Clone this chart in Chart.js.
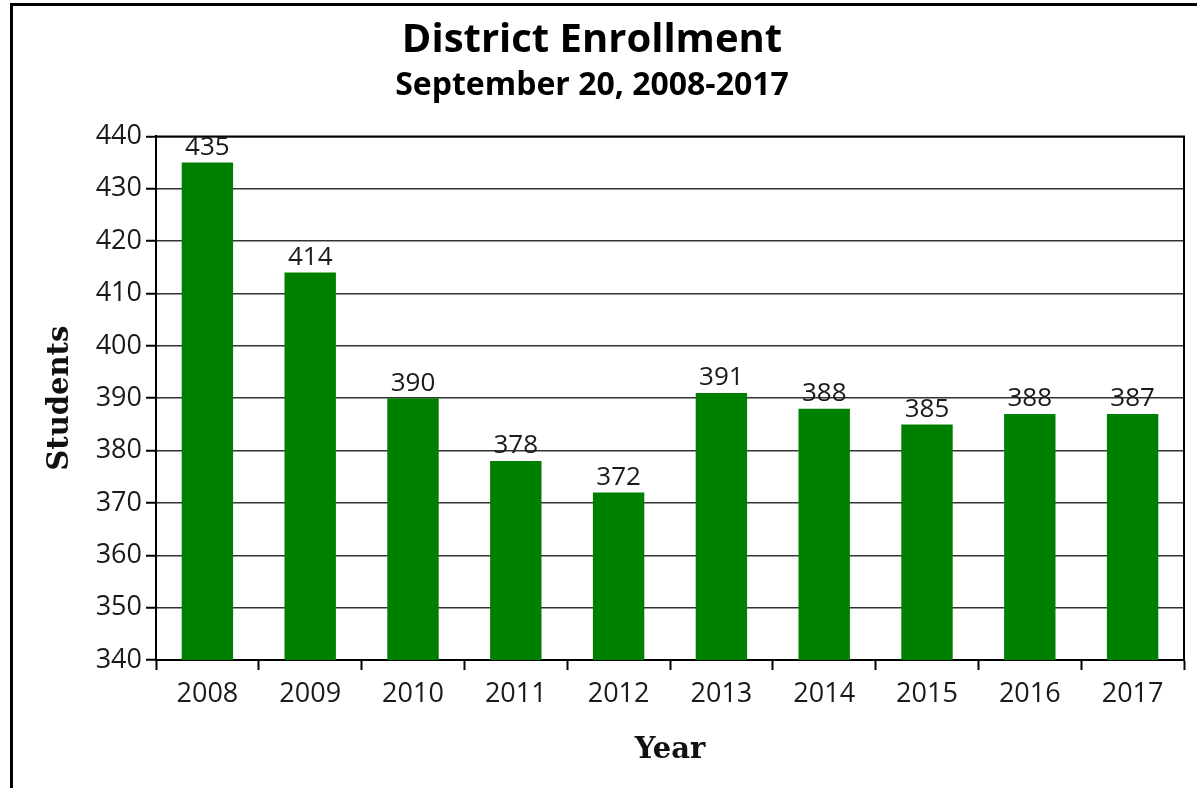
<!DOCTYPE html>
<html>
<head>
<meta charset="utf-8">
<script src="https://cdn.jsdelivr.net/npm/chart.js@4.4.0/dist/chart.umd.min.js"></script>
<style>
  html, body { margin: 0; padding: 0; background: #fff; }
  #wrap { position: relative; width: 1197px; height: 788px; overflow: hidden; }
  #frame { position: absolute; left: 10px; top: 3px; width: 1300px; height: 900px; border: 3px solid #000; box-sizing: border-box; }
  #c { position: absolute; left: 0; top: 0; }
</style>
</head>
<body>
<div id="wrap">
  <div id="frame"></div>
  <canvas id="c" width="1197" height="788"></canvas>
</div>
<script>
const years = ['2008','2009','2010','2011','2012','2013','2014','2015','2016','2017'];
const students = [435, 414, 390, 378, 372, 391, 388, 385, 387, 387];
const labelText = ['435','414','390','378','372','391','388','385','388','387'];
const yTicks = [340, 350, 360, 370, 380, 390, 400, 410, 420, 430, 440];

const sansFont = "'Open Sans', 'Noto Sans', sans-serif";
const serifFont = "'DejaVu Serif', serif";

const frameAreaPlugin = {
  id: 'frameArea',
  afterDatasetsDraw(chart) {
    const { ctx, chartArea: a } = chart;
    ctx.save();
    ctx.strokeStyle = '#000';
    ctx.lineWidth = 2;
    ctx.beginPath();
    ctx.moveTo(a.left, a.top);
    ctx.lineTo(a.right, a.top);
    ctx.lineTo(a.right, a.bottom);
    ctx.stroke();
    ctx.restore();
  }
};

const valueLabelPlugin = {
  id: 'valueLabels',
  afterDatasetsDraw(chart) {
    const { ctx } = chart;
    const meta = chart.getDatasetMeta(0);
    ctx.save();
    ctx.font = '26px ' + sansFont;
    ctx.fillStyle = '#1a1a1a';
    ctx.textAlign = 'center';
    ctx.textBaseline = 'middle';
    meta.data.forEach((bar, i) => {
      ctx.fillText(labelText[i], bar.x, bar.y - 15);
    });
    ctx.restore();
  }
};

new Chart(document.getElementById('c'), {
  type: 'bar',
  data: {
    labels: years,
    datasets: [{
      label: 'Students',
      data: students,
      backgroundColor: '#008000',
      borderWidth: 0,
      categoryPercentage: 1.0,
      barPercentage: 0.5
    }]
  },
  options: {
    responsive: false,
    animation: false,
    devicePixelRatio: 1,
    layout: { padding: { left: 0, right: 13, top: 0, bottom: 0 } },
    plugins: {
      legend: { display: false },
      tooltip: { enabled: false },
      title: {
        display: true,
        text: 'District Enrollment',
        color: '#000',
        font: { family: sansFont, size: 40, weight: 'bold' },
        padding: { top: 17, bottom: 0 }
      },
      subtitle: {
        display: true,
        text: 'September 20, 2008-2017',
        color: '#000',
        font: { family: sansFont, size: 32, weight: 'bold' },
        padding: { top: 2, bottom: 31 }
      }
    },
    scales: {
      x: {
        offset: true,
        afterFit(scale) { scale.height = 128; },
        grid: { drawOnChartArea: false, drawTicks: true, tickLength: 10, tickColor: '#000', tickWidth: 2, offset: true },
        border: { color: '#000', width: 2 },
        ticks: { color: '#1a1a1a', font: { family: sansFont, size: 27 }, padding: 8, maxRotation: 0 },
        title: {
          display: true,
          text: 'Year',
          color: '#111',
          font: { family: serifFont, size: 29, weight: 'bold' },
          padding: { top: 0, bottom: 20 }
        }
      },
      y: {
        min: 340,
        max: 440,
        afterFit(scale) { scale.width = 156; },
        afterBuildTicks(scale) { scale.ticks = yTicks.map(v => ({ value: v })); },
        grid: { color: '#333', lineWidth: 1.5, drawTicks: true, tickLength: 10, tickColor: '#000', tickWidth: 2 },
        border: { color: '#000', width: 2 },
        ticks: { color: '#1a1a1a', font: { family: sansFont, size: 27 }, padding: 4 },
        title: {
          display: true,
          text: 'Students',
          color: '#111',
          font: { family: serifFont, size: 29, weight: 'bold' },
          padding: { top: 43, bottom: 0 }
        }
      }
    }
  },
  plugins: [frameAreaPlugin, valueLabelPlugin]
});
</script>
</body>
</html>
